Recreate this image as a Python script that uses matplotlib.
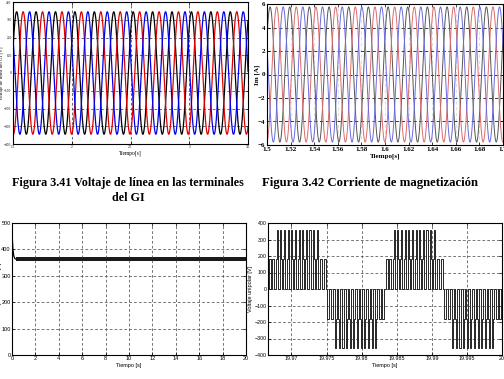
import numpy as np
import matplotlib
matplotlib.use("Agg")
import matplotlib.pyplot as plt

# ---------------- data ----------------
# Fig 3.41: three line voltages (sinusoids) -- amplitude [V], frequency [Hz], time of first peak [s]
v_amp = 345.0
v_freq = 6.05
v_tpeak = 1.531
v_colors = ["black", "#e00000", "#0000ee"]
v_xlim = [1.5, 3.5]
v_xticks = [1.5, 2, 2.5, 3, 3.5]
v_xticklabels = ["1.5", "2", "2.5", "3", "3.5"]
v_yticks = [-400, -300, -200, -100, 0, 100, 200, 300, 400]

# Fig 3.42: magnetising currents
i_amp = 5.75
i_freq = 60.0
i_tpeak = 1.5026
i_colors = ["#555555", "#e06a6a", "#6a6ae0"]
i_xlim = [1.5, 1.7]
i_xticks = [1.5, 1.52, 1.54, 1.56, 1.58, 1.6, 1.62, 1.64, 1.66, 1.68, 1.7]
i_xticklabels = ["1.5", "1.52", "1.54", "1.56", "1.58", "1.6", "1.62", "1.64", "1.66", "1.68", "1.7"]
i_yticks = [-6, -4, -2, 0, 2, 4, 6]

# DC bus voltage: start-up transient then ripple band
dc_t = [0.0, 0.0, 0.03, 0.08, 0.15, 0.25, 0.35]
dc_v = [0.0, 470.0, 440.0, 400.0, 375.0, 365.0, 363.0]
dc_band_t = [0.3, 20.0]
dc_band_low = 357.0
dc_band_high = 370.0
dc_xticks = [0, 2, 4, 6, 8, 10, 12, 14, 16, 18, 20]
dc_yticks = [0, 100, 200, 300, 400, 500]

# Unipolar PWM voltage: pulse levels within one half cycle of 60 Hz
pwm_f = 60.0
pwm_half_signs = [1, -1, 1, -1]
pwm_levels_half = [180, 180, 360, 360, 360, 360, 360, 360, 360, 360, 360, 360, 360, 360, 180, 180]
pwm_xticks = [19.97, 19.975, 19.98, 19.985, 19.99, 19.995, 20.0]
pwm_xticklabels = ["19.97", "19.975", "19.98", "19.985", "19.99", "19.995", "20"]
pwm_yticks = [-400, -300, -200, -100, 0, 100, 200, 300, 400]

# ---------------- figure ----------------
fig = plt.figure(figsize=(5.04, 3.79), dpi=100)
W, H = 504.0, 379.0

def rect(l, t, r, b):
    return [l / W, 1 - b / H, (r - l) / W, (b - t) / H]

serif = ["Liberation Serif", "DejaVu Serif"]
sans = ["Liberation Sans", "DejaVu Sans"]

def style(ax, fam, fs, bold=False, pad=1.5):
    ax.tick_params(direction="in", length=2, width=0.5, top=True, right=True,
                   labelsize=fs, pad=pad)
    for lab in ax.get_xticklabels() + ax.get_yticklabels():
        lab.set_family(fam)
        if bold:
            lab.set_fontweight("bold")
    for s in ax.spines.values():
        s.set_linewidth(0.8)

# ---- top left ----
ax1 = fig.add_axes(rect(13, 2, 248, 144))
t1 = np.linspace(v_xlim[0], v_xlim[1], 6000)
T1 = 1.0 / v_freq
for k, c in enumerate(v_colors):
    ax1.plot(t1, v_amp * np.cos(2 * np.pi * v_freq * (t1 - v_tpeak - k * T1 / 3)), color=c, lw=0.9)
ax1.set_xlim(v_xlim)
ax1.set_ylim(-400, 400)
ax1.set_xticks(v_xticks)
ax1.set_xticklabels(v_xticklabels)
ax1.set_yticks(v_yticks)
ax1.grid(True, linestyle=(0, (4, 3)), color="0.2", lw=0.5)
style(ax1, serif, 2.5, pad=1)
ax1.set_xlabel("Tiempo[s]", family=serif, fontsize=4, labelpad=1)
ax1.set_ylabel("Voltaje de línea del GI [V]", family=serif, fontsize=3.6)
ax1.yaxis.set_label_coords(-0.037, 0.5)

# ---- top right ----
ax2 = fig.add_axes(rect(267, 4, 503, 145))
t2 = np.linspace(i_xlim[0], i_xlim[1], 6000)
T2 = 1.0 / i_freq
for k, c in enumerate(i_colors):
    ax2.plot(t2, i_amp * np.cos(2 * np.pi * i_freq * (t2 - i_tpeak - k * T2 / 3)), color=c, lw=0.7)
ax2.set_xlim(i_xlim)
ax2.set_ylim(-6, 6)
ax2.set_xticks(i_xticks)
ax2.set_xticklabels(i_xticklabels)
ax2.set_yticks(i_yticks)
ax2.grid(True, axis="y", linestyle=(0, (4, 3)), color="0.1", lw=0.6)
ax2.grid(True, axis="x", linestyle=(0, (4, 3)), color="0.85", lw=0.6)
style(ax2, serif, 5, bold=True, pad=1)
ax2.tick_params(axis="x", pad=1.8)
ax2.set_xlabel("Tiempo[s]", family=serif, fontsize=5, fontweight="bold", labelpad=0.5)
ax2.set_ylabel("Im [A]", family=serif, fontsize=5, fontweight="bold")
ax2.yaxis.set_label_coords(-0.028, 0.5)

# ---- bottom left ----
ax3 = fig.add_axes(rect(12, 223, 246, 355))
ax3.plot(dc_t, dc_v, color="black", lw=0.9)
ax3.fill_between(dc_band_t, [dc_band_low] * 2, [dc_band_high] * 2, color="0.1", lw=0)
ax3.set_xlim(0, 20)
ax3.set_ylim(0, 500)
ax3.set_xticks(dc_xticks)
ax3.set_yticks(dc_yticks)
ax3.grid(True, linestyle=(0, (4, 3)), color="0.25", lw=0.5)
style(ax3, sans, 4, pad=1)
ax3.set_xlabel("Tiempo [s]", family=sans, fontsize=4, labelpad=1)
ax3.set_ylabel("Voltaje del bus DC [V]", family=sans, fontsize=4)
ax3.yaxis.set_label_coords(-0.044, 0.5)

# ---- bottom right ----
ax4 = fig.add_axes(rect(268, 223, 502, 355))
half = 1.0 / (2 * pwm_f)
t_start = 20.0 - 2.0 / pwm_f
n = len(pwm_levels_half)
sp = half / n
w1, w2 = 0.55 * sp, 0.3 * sp
xs, ys = [t_start], [0.0]
for k, sg in enumerate(pwm_half_signs):
    base = t_start + k * half
    for i, L in enumerate(pwm_levels_half):
        c = base + (i + 0.5) * sp
        if L == 180:
            xs += [c - w1 / 2, c - w1 / 2, c + w1 / 2, c + w1 / 2]
            ys += [0, 180 * sg, 180 * sg, 0]
        else:
            xs += [c - w1 / 2, c - w1 / 2, c - w2 / 2, c - w2 / 2, c + w2 / 2, c + w2 / 2, c + w1 / 2, c + w1 / 2]
            ys += [0, 180 * sg, 180 * sg, L * sg, L * sg, 180 * sg, 180 * sg, 0]
xs.append(20.0)
ys.append(0.0)
ax4.plot(xs, ys, color="0.15", lw=0.7)
ax4.set_xlim(t_start, 20.0)
ax4.set_ylim(-400, 400)
ax4.set_xticks(pwm_xticks)
ax4.set_xticklabels(pwm_xticklabels)
ax4.set_yticks(pwm_yticks)
ax4.grid(True, linestyle=(0, (4, 3)), color="0.25", lw=0.5)
style(ax4, sans, 3.8, pad=1)
ax4.set_xlabel("Tiempo [s]", family=sans, fontsize=4, labelpad=1)
ax4.set_ylabel("Voltaje unipolar [V]", family=sans, fontsize=4)
ax4.yaxis.set_label_coords(-0.062, 0.5)

# ---- captions ----
fig.text(128 / W, 1 - 183 / H, "Figura 3.41 Voltaje de línea en las terminales",
         family=serif, fontweight="bold", fontsize=8.7, ha="center", va="center")
fig.text(128 / W, 1 - 198 / H, "del GI",
         family=serif, fontweight="bold", fontsize=8.7, ha="center", va="center")
fig.text(370 / W, 1 - 183 / H, "Figura 3.42 Corriente de magnetización",
         family=serif, fontweight="bold", fontsize=9.2, ha="center", va="center")

fig.savefig("out.png", dpi=100)
